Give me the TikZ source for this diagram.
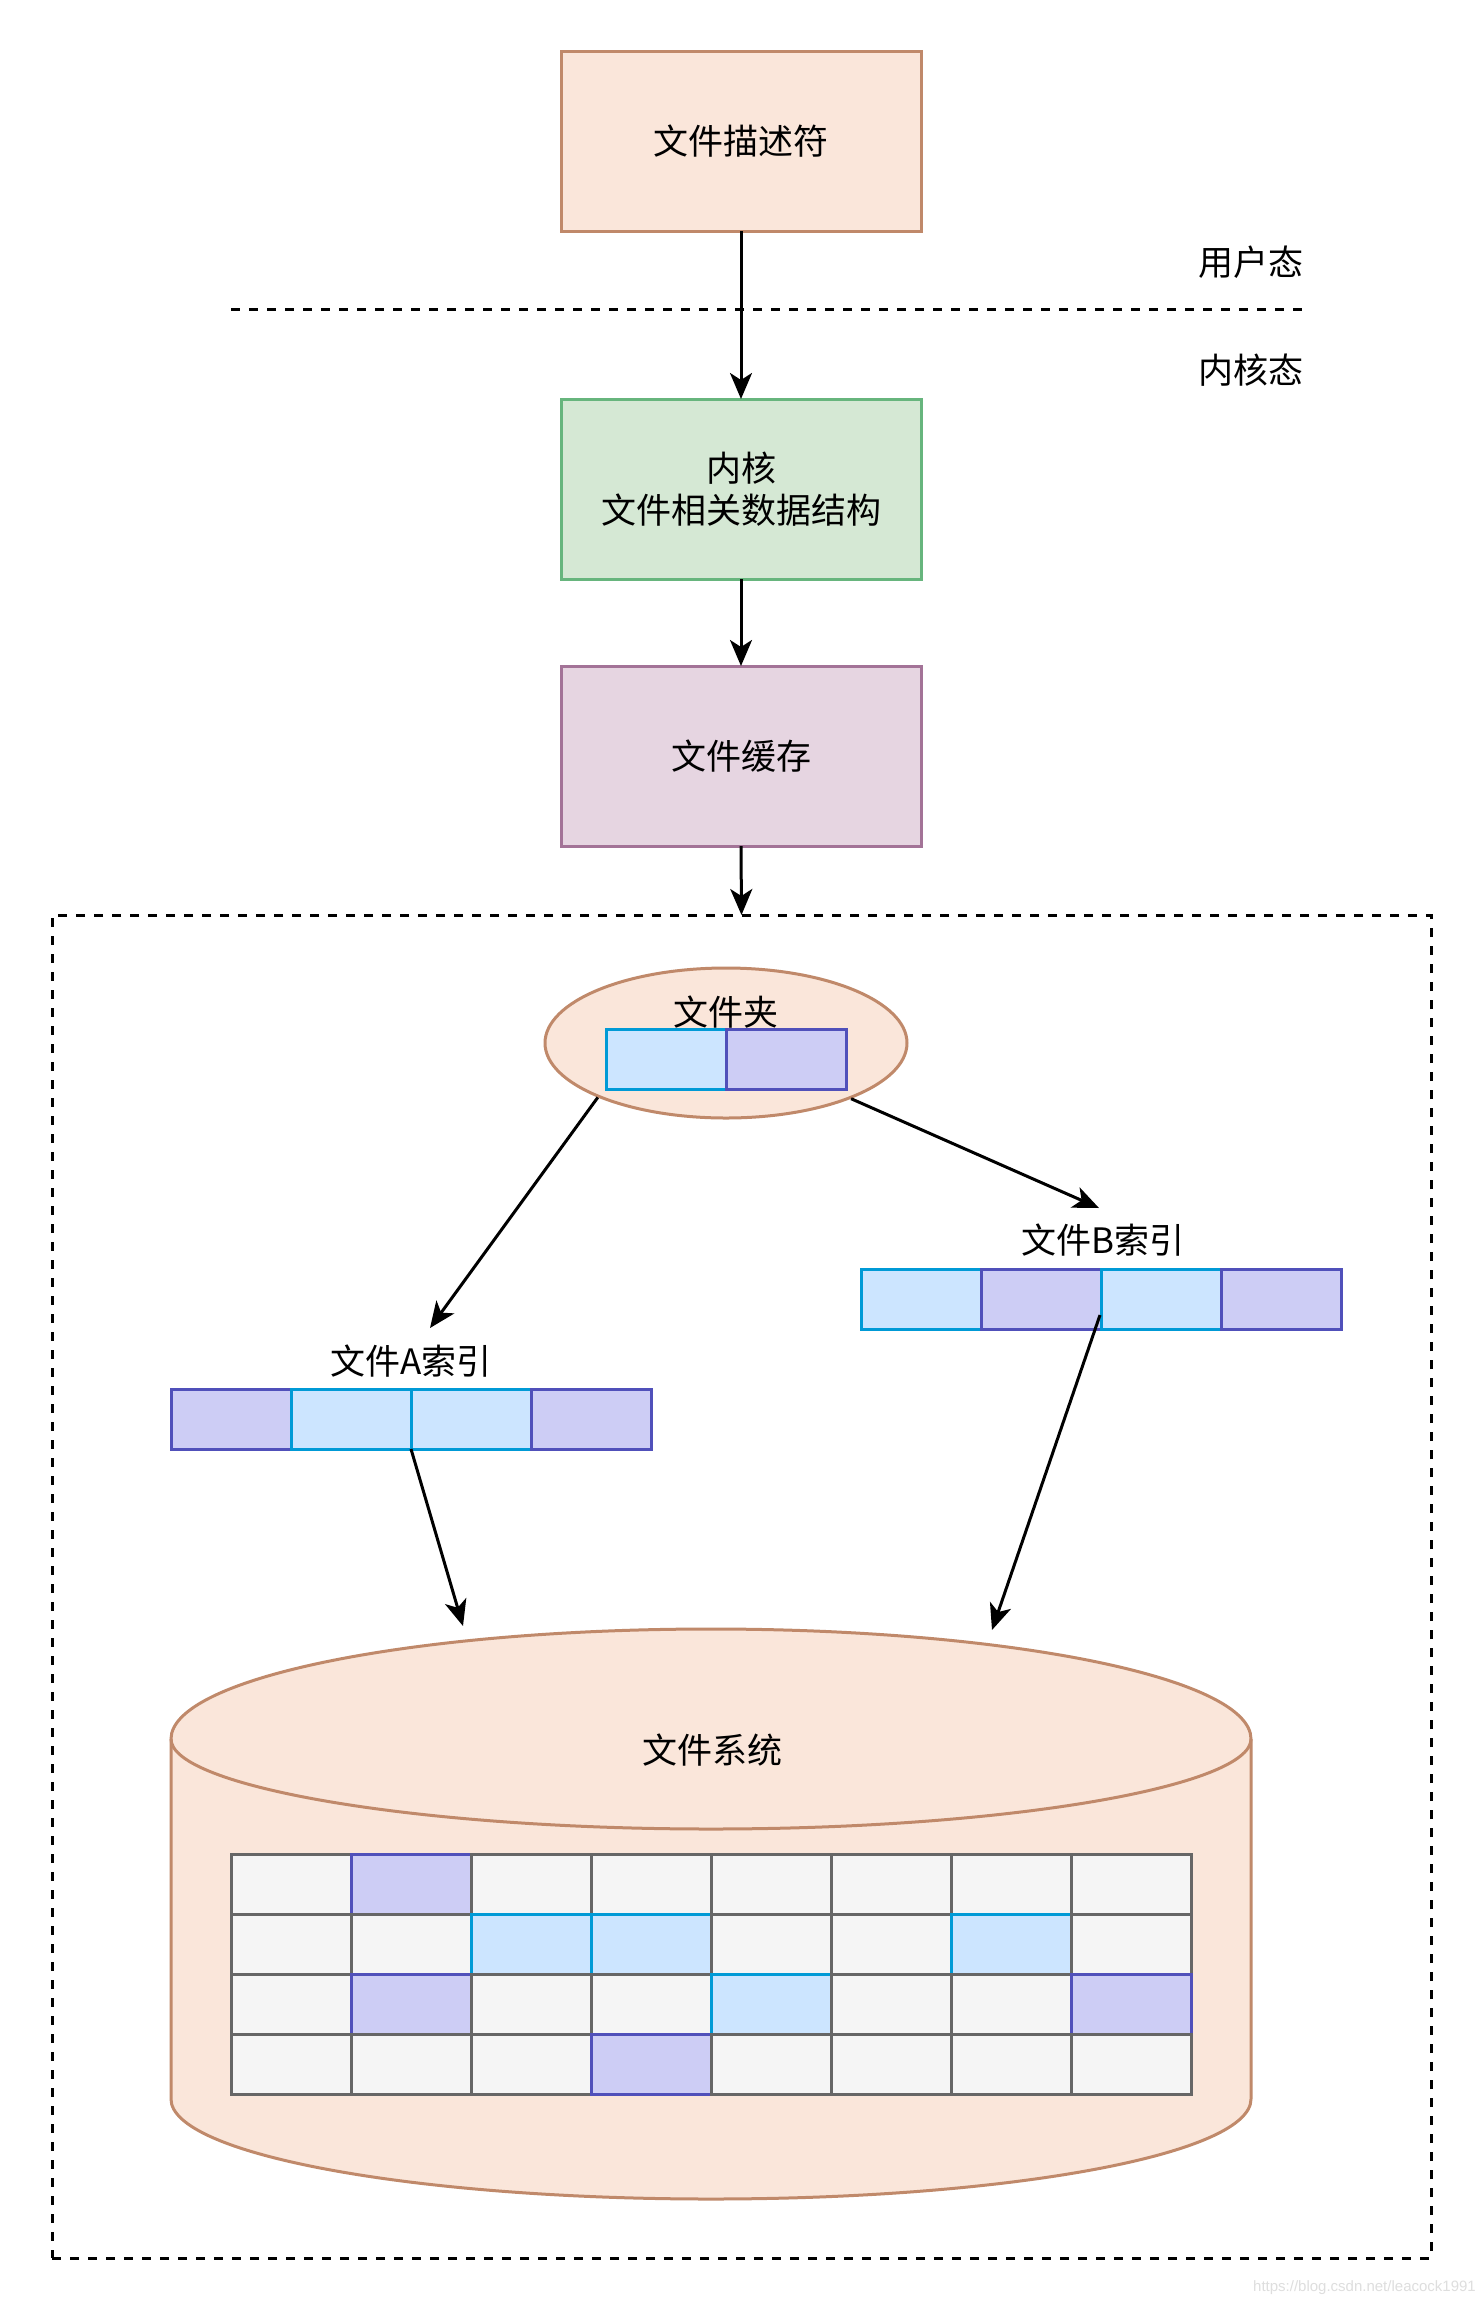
\documentclass[tikz,border=0pt]{standalone}
\usepackage{fontspec}
\setmainfont{Noto Sans CJK SC}
\newfontfamily\wmfont{Liberation Sans}
\usetikzlibrary{arrows.meta,shapes.geometric,calc}
\definecolor{peachF}{HTML}{FAE6DA}
\definecolor{peachD}{HTML}{C0896A}
\definecolor{greenF}{HTML}{D5E8D4}
\definecolor{greenD}{HTML}{67B57D}
\definecolor{purpF}{HTML}{E6D5E1}
\definecolor{purpD}{HTML}{A37397}
\definecolor{blueF}{HTML}{CCE5FF}
\definecolor{blueD}{HTML}{009AD6}
\definecolor{violF}{HTML}{CDCDF5}
\definecolor{violD}{HTML}{5050BA}
\definecolor{grayF}{HTML}{F5F5F5}
\definecolor{grayD}{HTML}{666666}
\tikzset{
  txt/.style={font=\fontsize{35}{42}\selectfont, align=center, inner sep=0pt},
  bigbox/.style={draw, line width=3pt, minimum width=360pt, minimum height=180pt, inner sep=0pt, outer sep=0pt, txt},
  cellb/.style={draw=blueD, fill=blueF, line width=3pt, minimum width=120pt, minimum height=60pt, inner sep=0pt, outer sep=0pt},
  cellv/.style={draw=violD, fill=violF, line width=3pt, minimum width=120pt, minimum height=60pt, inner sep=0pt, outer sep=0pt},
  cellg/.style={draw=grayD, fill=grayF, line width=3pt, minimum width=120pt, minimum height=60pt, inner sep=0pt, outer sep=0pt},
  arr/.style={line width=3pt, -{Stealth[length=26pt,width=22pt,inset=7pt]}},
  dashline/.style={line width=3pt, dash pattern=on 9pt off 9pt}
}
\begin{document}
\begin{tikzpicture}[x=1pt,y=-1pt]
\useasboundingbox[fill=white] (0,0) rectangle (1483,2311);

% top boxes
\node[bigbox, draw=peachD, fill=peachF] (fd) at (741,141) {文件描述符};
\node[bigbox, draw=greenD, fill=greenF] (kern) at (741,489) {内核\\文件相关数据结构};
\node[bigbox, draw=purpD, fill=purpF] (cache) at (741,756) {文件缓存};

% user / kernel separator
\coordinate (sepL) at (231,309);
\coordinate (sepR) at (1303,309);
\draw[dashline] (sepL) -- (sepR);
\node[txt, anchor=east] (user) at (1304,262) {用户态};
\node[txt, anchor=east] (kstate) at (1304,370) {内核态};

% container
\node[draw, dashline, minimum width=1379pt, minimum height=1343pt, inner sep=0pt, outer sep=0pt] (cont) at (741.5,1586.5) {};

\draw[arr] (fd.south) -- (kern.north);
\draw[arr] (kern.south) -- (cache.north);
\draw[arr] (cache.south) -- (cont.north);

% folder
\node[ellipse, draw=peachD, fill=peachF, line width=3pt, minimum width=362pt, minimum height=150pt, inner sep=0pt] (folder) at (726,1043) {};
\node[txt] (folderlbl) at (726,1012) {文件夹};
\node[cellb] (f1) at (666,1059) {};
\node[cellv] (f2) at (786,1059) {};

% index A
\node[txt] (alabel) at (411,1361) {文件A索引};
\node[cellv] (a1) at (231,1419) {};
\node[cellb] (a2) at (351,1419) {};
\node[cellb] (a3) at (471,1419) {};
\node[cellv] (a4) at (591,1419) {};

% index B
\node[txt] (blabel) at (1103,1240) {文件B索引};
\node[cellb] (b1) at (921,1299) {};
\node[cellv] (b2) at (1041,1299) {};
\node[cellb] (b3) at (1161,1299) {};
\node[cellv] (b4) at (1281,1299) {};

% cylinder
\filldraw[draw=peachD, fill=peachF, line width=3pt]
  (171,1739) -- (171,2099)
  .. controls (171,2154.2) and (412.8,2199) .. (711,2199)
  .. controls (1009.2,2199) and (1251,2154.2) .. (1251,2099)
  -- (1251,1739)
  .. controls (1251,1678) and (1009.2,1629) .. (711,1629)
  .. controls (412.8,1629) and (171,1678) .. (171,1739) -- cycle;
\draw[draw=peachD, line width=3pt]
  (171,1739) .. controls (171,1786) and (412.8,1829) .. (711,1829)
  .. controls (1009.2,1829) and (1251,1786) .. (1251,1739);
\node[txt] (fslabel) at (712,1750) {文件系统};

% grid
\foreach \r/\row in {0/{g,v,g,g,g,g,g,g},1/{g,g,b,b,g,g,b,g},2/{g,v,g,g,b,g,g,v},3/{g,g,g,v,g,g,g,g}}{
  \foreach \t [count=\c from 0] in \row {
    \node[cell\t] (g\r\c) at ({291+120*\c},{1884+60*\r}) {};
  }
}

% connectors
\coordinate (aTip) at (430,1328);
\coordinate (bTip) at (1099,1208);
\coordinate (aOut) at (411,1449);
\coordinate (bOut) at (1100,1315);
\coordinate (cylA) at (463,1626);
\coordinate (cylB) at (992,1630);
\draw[arr] (folder.203.6) -- (aTip);
\draw[arr] (folder.336.6) -- (bTip);
\draw[arr] (aOut) -- (cylA);
\draw[arr] (bOut) -- (cylB);

% watermark
\node[font=\wmfont\fontsize{15}{18}\selectfont, text=black!13, anchor=east, inner sep=0pt] (wm) at (1476,2288) {https://blog.csdn.net/leacock1991};
\end{tikzpicture}
\end{document}
